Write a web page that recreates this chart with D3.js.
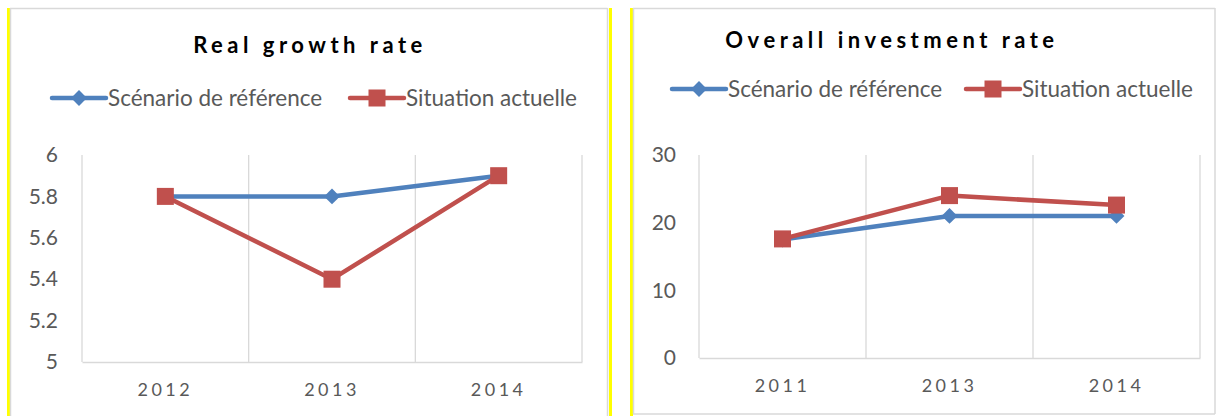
<!DOCTYPE html>
<html><head><meta charset="utf-8">
<script src="https://cdn.jsdelivr.net/npm/d3@7"></script>
<style>
html,body{margin:0;padding:0;background:#fff;}
svg{display:block;}
text{font-family:Lato, "Open Sans", sans-serif;}
</style></head>
<body>
<svg id="c" width="1216" height="416"></svg>
<script>
// ---- data ----
const seriesNames = ["Scénario de référence", "Situation actuelle"];
const growthYears = ["2012", "2013", "2014"];
const growthReference = [5.8, 5.8, 5.9];
const growthCurrent = [5.8, 5.4, 5.9];
const growthTicks = [5, 5.2, 5.4, 5.6, 5.8, 6];
const investYears = ["2011", "2013", "2014"];
const investReference = [17.5, 21, 21];
const investCurrent = [17.6, 24, 22.6];
const investTicks = [0, 10, 20, 30];

const BLUE = "#4F81BD", RED = "#C0504D", GRID = "#D9D9D9", TXT = "#595959";
const svg = d3.select("#c");

// panel frames
function frame(x0, x1, yBottom) {
  svg.append("rect").attr("x", x0).attr("y", 8).attr("width", 3).attr("height", 416 - 8).attr("fill", "#FFFF00");
  svg.append("line").attr("x1", x0 + 3.5).attr("x2", x0 + 3.5).attr("y1", 8).attr("y2", yBottom).attr("stroke", "#D9D9D9").attr("stroke-width", 1.5);
  svg.append("line").attr("x1", x0 + 3).attr("x2", x1).attr("y1", 8.5).attr("y2", 8.5).attr("stroke", "#D9D9D9").attr("stroke-width", 1.5);
  svg.append("line").attr("x1", x1).attr("x2", x1).attr("y1", 8).attr("y2", yBottom).attr("stroke", "#D9D9D9").attr("stroke-width", 1.5);
}
frame(7, 607.5, 416);
svg.append("rect").attr("x", 609).attr("y", 8).attr("width", 3).attr("height", 408).attr("fill", "#FFFF00");
frame(630, 1215, 414);
svg.append("line").attr("x1", 633).attr("x2", 1215).attr("y1", 414).attr("y2", 414).attr("stroke", "#D9D9D9").attr("stroke-width", 1.5);

function chart(opt) {
  const g = svg.append("g");
  const x = d3.scaleBand().domain(opt.cats).range([opt.left, opt.right]);
  const y = d3.scaleLinear().domain(opt.domain).range([opt.bottom, opt.top]);

  // title
  g.append("text").attr("x", opt.titleX).attr("y", opt.titleY).attr("text-anchor", "middle")
    .attr("font-size", 22).attr("font-weight", "bold").attr("letter-spacing", "4.5px").attr("fill", "#000")
    .text(opt.title);

  // vertical gridlines
  const bounds = opt.cats.map(c => x(c)).concat([opt.right]);
  g.selectAll(".vg").data(bounds).enter().append("line")
    .attr("x1", d => d).attr("x2", d => d).attr("y1", opt.top).attr("y2", opt.bottom)
    .attr("stroke", GRID).attr("stroke-width", 1.3);

  // x axis
  const xa = g.append("g").attr("transform", `translate(0,${opt.bottom})`)
    .call(d3.axisBottom(x).tickSize(0).tickPadding(21));
  xa.select(".domain").attr("stroke", GRID).attr("stroke-width", 1.5);
  xa.selectAll("text").attr("font-size", 18).attr("letter-spacing", "3.5px").attr("fill", TXT)
    .attr("font-family", "Lato, sans-serif");

  // y axis labels
  const ya = g.append("g").attr("transform", `translate(${opt.left},0)`)
    .call(d3.axisLeft(y).tickValues(opt.ticks).tickSize(0).tickPadding(opt.yPad).tickFormat(d3.format("")));
  ya.select(".domain").remove();
  ya.selectAll("text").attr("font-size", 21).attr("fill", TXT).attr("font-family", "Lato, sans-serif");

  const line = d3.line().x((d, i) => x(opt.cats[i]) + x.bandwidth() / 2).y(d => y(d));
  // reference series
  g.append("path").datum(opt.ref).attr("d", line).attr("fill", "none").attr("stroke", BLUE).attr("stroke-width", 4.5).attr("stroke-linejoin", "round");
  g.selectAll(".dm").data(opt.ref).enter().append("path")
    .attr("d", d3.symbol(d3.symbolDiamond2 || d3.symbolDiamond, 160))
    .attr("transform", (d, i) => `translate(${x(opt.cats[i]) + x.bandwidth() / 2},${y(d)})`)
    .attr("fill", BLUE);
  g.append("path").datum(opt.cur).attr("d", line).attr("fill", "none").attr("stroke", RED).attr("stroke-width", 4.5).attr("stroke-linejoin", "round");
  g.selectAll(".sq").data(opt.cur).enter().append("rect")
    .attr("x", (d, i) => x(opt.cats[i]) + x.bandwidth() / 2 - 8.5)
    .attr("y", d => y(d) - 8.5).attr("width", 17).attr("height", 17).attr("fill", RED);

  // legend
  const lg = g.append("g");
  const items = [
    {name: seriesNames[0], color: BLUE, x0: opt.leg[0], sym: "d"},
    {name: seriesNames[1], color: RED, x0: opt.leg[1], sym: "s"}
  ];
  items.forEach(it => {
    lg.append("line").attr("x1", it.x0).attr("x2", it.x0 + 54).attr("y1", opt.legY).attr("y2", opt.legY)
      .attr("stroke", it.color).attr("stroke-width", 4.5).attr("stroke-linecap", "round");
    if (it.sym === "d") {
      lg.append("path").attr("d", d3.symbol(d3.symbolDiamond2 || d3.symbolDiamond, 160))
        .attr("transform", `translate(${it.x0 + 27},${opt.legY})`).attr("fill", it.color);
    } else {
      lg.append("rect").attr("x", it.x0 + 18.5).attr("y", opt.legY - 8.5).attr("width", 17).attr("height", 17).attr("fill", it.color);
    }
    lg.append("text").attr("x", it.x0 + 56).attr("y", opt.legY + 8).attr("font-size", 22.5).attr("fill", TXT).text(it.name);
  });
}

chart({cats: growthYears, ref: growthReference, cur: growthCurrent, ticks: growthTicks, domain: [5, 6],
  left: 82, right: 582, top: 155, bottom: 362, yPad: 24,
  title: "Real growth rate", titleX: 310, titleY: 53, leg: [52, 350], legY: 98});
chart({cats: investYears, ref: investReference, cur: investCurrent, ticks: investTicks, domain: [0, 30],
  left: 699, right: 1200, top: 155, bottom: 358, yPad: 23,
  title: "Overall investment rate", titleX: 892, titleY: 48, leg: [672, 966], legY: 89});
</script>
</body></html>
